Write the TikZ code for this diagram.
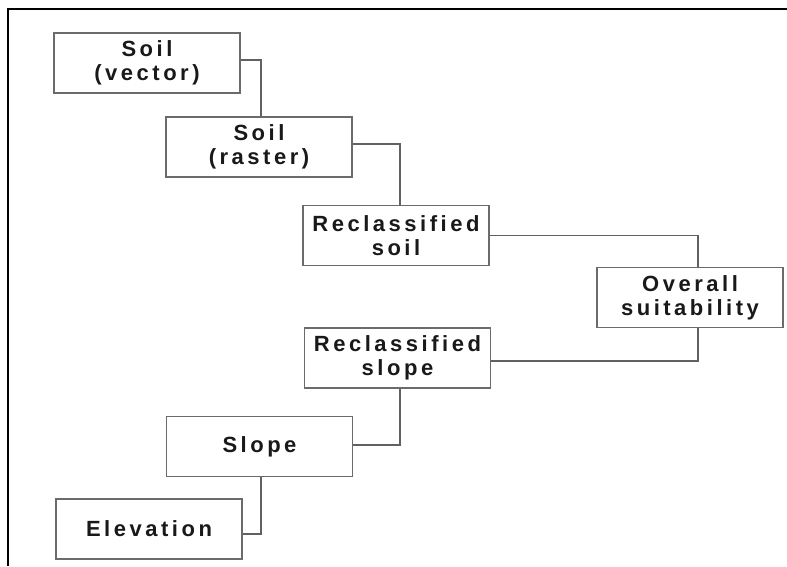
\documentclass[tikz,border=0pt]{standalone}
\usepackage{fontspec}
\setmainfont{Liberation Sans}[LetterSpace=16]
\begin{document}
\begin{tikzpicture}[x=1pt,y=-1pt,
  box/.style={draw=black!58, line width=1.8pt, fill=white, rectangle,
    minimum width=186pt, minimum height=60pt, inner sep=0pt,
    align=center, text=black!90,
    font=\fontsize{22}{24}\selectfont\bfseries},
  link/.style={draw=black!62, line width=1.6pt}]
\useasboundingbox (0,0) rectangle (787,566);
\fill[white] (0,0) rectangle (787,566);
% frame
\draw[black, line width=2.2pt] (8,566) -- (8,9) -- (787,9);
% nodes
\node[box] (sv)  at (147,63)    {Soil\\(vector)};
\node[box] (sr)  at (259,147)   {Soil\\(raster)};
\node[box] (rs)  at (396,235.5) {Reclassified\\soil};
\node[box] (ov)  at (690,297.5) {Overall\\suitability};
\node[box] (rsl) at (397.5,358) {Reclassified\\slope};
\node[box] (sl)  at (259.5,446.5) {Slope};
\node[box] (el)  at (149,529)   {Elevation};
% connectors
\draw[link] ([yshift=3pt]sv.east) -| ([xshift=2pt]sr.north);
\draw[link] ([yshift=3pt]sr.east) -| ([xshift=4pt]rs.north);
\draw[link] (rs.east) -| ([xshift=8pt]ov.north);
\draw[link] ([xshift=8pt]ov.south) |- ([yshift=-3pt]rsl.east);
\draw[link] ([xshift=2.5pt]rsl.south) |- ([yshift=1.5pt]sl.east);
\draw[link] ([xshift=1.5pt]sl.south) |- ([yshift=-5pt]el.east);
\end{tikzpicture}
\end{document}
